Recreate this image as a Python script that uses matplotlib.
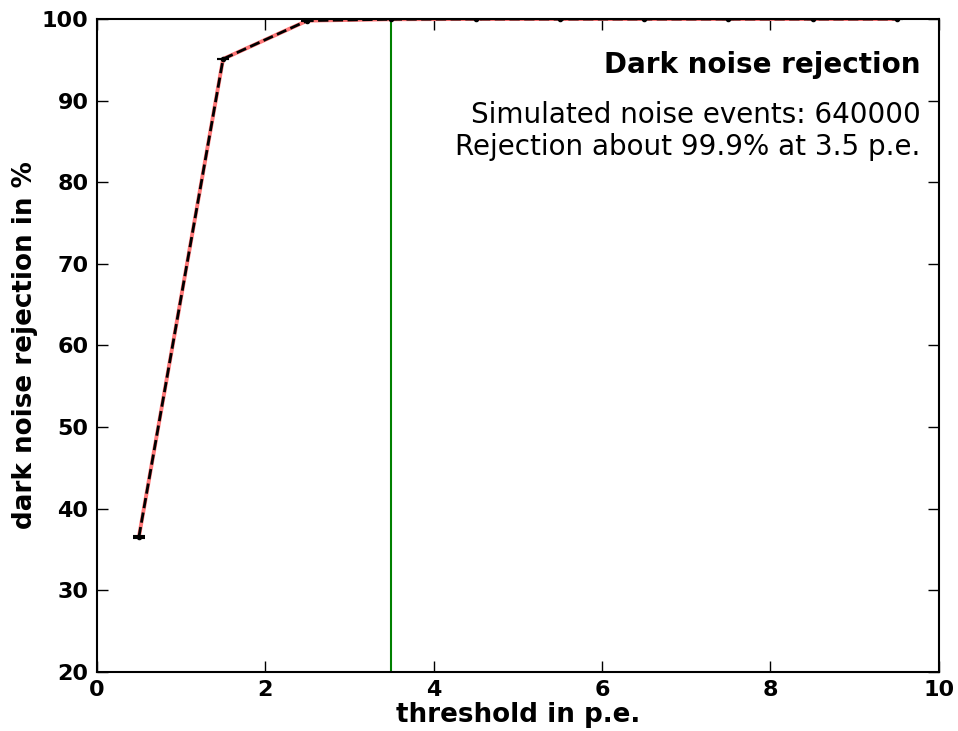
import numpy as np
import matplotlib
matplotlib.use("Agg")
import matplotlib.pyplot as plt

threshold = [0.5, 1.5, 2.5, 3.5, 4.5, 5.5, 6.5, 7.5, 8.5, 9.5]
rejection = [36.5, 95.1, 99.8, 99.97, 100.0, 100.0, 100.0, 100.0, 100.0, 100.0]
rej_err = [0.1, 0.05, 0.02, 0.01, 0.0, 0.0, 0.0, 0.0, 0.0, 0.0]

plt.rcParams['font.weight'] = 'bold'
plt.rcParams['xtick.direction'] = 'in'
plt.rcParams['ytick.direction'] = 'in'

fig = plt.figure(figsize=(9.58, 7.31), dpi=100)
ax = fig.add_axes([0.101, 0.081, 0.879, 0.893])

ax.plot(threshold, rejection, color='#ff7878', lw=2.8)
ax.errorbar(threshold, rejection, yerr=rej_err, fmt='k.--', lw=2, ms=6,
            capsize=4, capthick=1.5)
ax.axvline(3.5, color='green', lw=1.5)

ax.set_xlim(0, 10)
ax.set_ylim(20, 100)
ax.set_xlabel('threshold in p.e.', fontsize=18.8, fontweight='bold', labelpad=1)
ax.set_ylabel('dark noise rejection in %', fontsize=18.8, fontweight='bold', labelpad=3)
ax.tick_params(axis='both', which='major', labelsize=16, length=8, width=1,
               top=True, right=True, pad=6)
for s in ax.spines.values():
    s.set_linewidth(1.5)

ax.text(0.978, 0.93, 'Dark noise rejection', transform=ax.transAxes,
        ha='right', va='center', fontsize=20, fontweight='bold')
ax.text(0.978, 0.875, 'Simulated noise events: 640000\nRejection about 99.9% at 3.5 p.e.',
        transform=ax.transAxes, ha='right', va='top', fontsize=20,
        fontweight='normal', linespacing=1.2)

plt.savefig("out.png")
